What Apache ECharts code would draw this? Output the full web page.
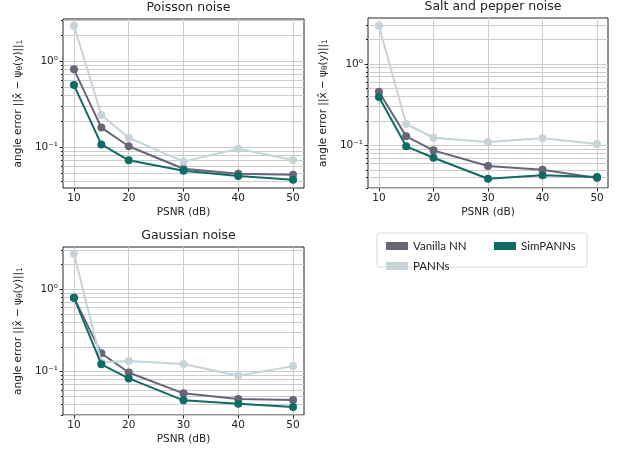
<!DOCTYPE html>
<html><head><meta charset="utf-8">
<script src="https://cdn.jsdelivr.net/npm/echarts@6/dist/echarts.min.js"></script>
<style>html,body{margin:0;padding:0;background:#fff}#c{width:624px;height:452px}</style>
</head><body><div id="c"></div>
<script>
// ---- data ----
const psnr = [10, 15, 20, 30, 40, 50];
const xTicks = [10, 20, 30, 40, 50];
const yMajorTicks = [0.1, 1];
const yMinorTicks = [0.02,0.03,0.04,0.05,0.06,0.07,0.08,0.09,0.2,0.3,0.4,0.5,0.6,0.7,0.8,0.9,2,3];
const panelTitles = ['Poisson noise', 'Salt and pepper noise', 'Gaussian noise'];
const seriesNames = ['Vanilla NN', 'PANNs', 'SimPANNs'];
const poissonVanilla = [0.80, 0.168, 0.102, 0.0558, 0.0489, 0.0475];
const poissonPANNs   = [2.57, 0.236, 0.128, 0.0675, 0.0955, 0.0706];
const poissonSim     = [0.525, 0.107, 0.0699, 0.053, 0.0459, 0.0416];
const saltVanilla    = [0.457, 0.129, 0.0868, 0.0557, 0.0502, 0.0397];
const saltPANNs      = [2.96, 0.183, 0.124, 0.110, 0.122, 0.104];
const saltSim        = [0.393, 0.0972, 0.0705, 0.0389, 0.0428, 0.0408];
const gaussVanilla   = [0.79, 0.167, 0.098, 0.0547, 0.0467, 0.0454];
const gaussPANNs     = [2.70, 0.130, 0.135, 0.124, 0.0895, 0.117];
const gaussSim       = [0.79, 0.123, 0.083, 0.045, 0.041, 0.0374];

// ---- styling / layout ----
const colors = ['#6a6479', '#c6d4d9', '#0e6b66'];
const panels = [
  {grid: {left: 63, top: 19, width: 241, height: 169}, yRange: [0.0333, 3.08], data: [poissonVanilla, poissonPANNs, poissonSim]},
  {grid: {left: 368, top: 18, width: 240, height: 170}, yRange: [0.0299, 3.68], data: [saltVanilla, saltPANNs, saltSim]},
  {grid: {left: 63, top: 247, width: 241, height: 168}, yRange: [0.0299, 3.25], data: [gaussVanilla, gaussPANNs, gaussSim]}
];
const font = 'DejaVu Sans';
const txt = '#222';
const gridColor = '#cccccc';

const grids = [], xAxes = [], yAxes = [], series = [], titles = [];
panels.forEach((p, i) => {
  grids.push(Object.assign({show: true, borderColor: '#222', borderWidth: 1, backgroundColor: 'transparent'}, p.grid));
  titles.push({
    text: panelTitles[i], left: p.grid.left + p.grid.width / 2, top: p.grid.top - 23, textAlign: 'center',
    textStyle: {fontFamily: font, fontSize: 12.5, fontWeight: 'normal', color: txt}
  });
  xAxes.push({
    gridIndex: i, type: 'value', min: 8, max: 52,
    name: 'PSNR (dB)', nameLocation: 'middle', nameGap: 19,
    nameTextStyle: {fontFamily: font, fontSize: 10.5, color: txt},
    axisLine: {show: false},
    axisTick: {show: true, length: 3.5, customValues: xTicks, lineStyle: {color: '#222'}},
    axisLabel: {customValues: xTicks, fontFamily: font, fontSize: 10.5, color: txt, margin: 5},
    splitLine: {show: true, lineStyle: {color: gridColor, width: 1}}
  });
  yAxes.push({
    gridIndex: i, type: 'log', position: 'left', min: p.yRange[0], max: p.yRange[1],
    name: 'angle error ||x̂ − ψ{s|θ}(y)||{s|1}', nameLocation: 'middle', nameGap: 39,
    nameTextStyle: {fontFamily: font, fontSize: 10.5, color: txt,
      rich: {s: {fontFamily: font, fontSize: 7.5, color: txt, padding: [4, 0, 0, 0]}}},
    axisLine: {show: false},
    axisTick: {show: true, length: 3.5, customValues: yMajorTicks, lineStyle: {color: '#222'}},
    axisLabel: {customValues: yMajorTicks, fontFamily: font, fontSize: 10.5, color: txt, margin: 5,
      formatter: v => '10' + (v > 0.5 ? '⁰' : '⁻¹')},
    splitLine: {show: true, lineStyle: {color: gridColor, width: 1}}
  });
  yAxes.push({
    gridIndex: i, type: 'log', position: 'left', offset: 0, min: p.yRange[0], max: p.yRange[1],
    axisLine: {show: false},
    axisTick: {show: true, length: 2, customValues: yMinorTicks, lineStyle: {color: '#222'}},
    axisLabel: {show: false, customValues: yMinorTicks},
    splitLine: {show: true, lineStyle: {color: gridColor, width: 1}}
  });
  seriesNames.forEach((name, k) => {
    series.push({
      name: name, type: 'line', xAxisIndex: i, yAxisIndex: 2 * i,
      data: psnr.map((x, j) => [x, p.data[k][j]]),
      symbol: 'circle', symbolSize: 8, showSymbol: true,
      lineStyle: {color: colors[k], width: 2},
      itemStyle: {color: colors[k]},
      z: 2 + k, animation: false
    });
  });
});

const legendText = {fontFamily: 'Lato', fontSize: 11.5, color: txt};
const option = {
  backgroundColor: '#fff',
  animation: false,
  color: colors,
  title: titles,
  grid: grids,
  xAxis: xAxes,
  yAxis: yAxes,
  series: series,
  legend: [
    {data: ['Vanilla NN', 'PANNs'], orient: 'vertical', left: 381, top: 235, icon: 'rect',
     itemWidth: 22, itemHeight: 8, itemGap: 8, textStyle: legendText, selectedMode: false},
    {data: ['SimPANNs'], orient: 'vertical', left: 489, top: 235, icon: 'rect',
     itemWidth: 22, itemHeight: 8, itemGap: 8, textStyle: legendText, selectedMode: false}
  ],
  graphic: [{type: 'rect', shape: {x: 377, y: 233, width: 210, height: 34, r: 2},
    style: {fill: '#fff', stroke: '#d6d6d6', lineWidth: 1}, z: -1}]
};
const chart = echarts.init(document.getElementById('c'), null, {renderer: 'canvas'});
chart.setOption(option);
</script></body></html>
